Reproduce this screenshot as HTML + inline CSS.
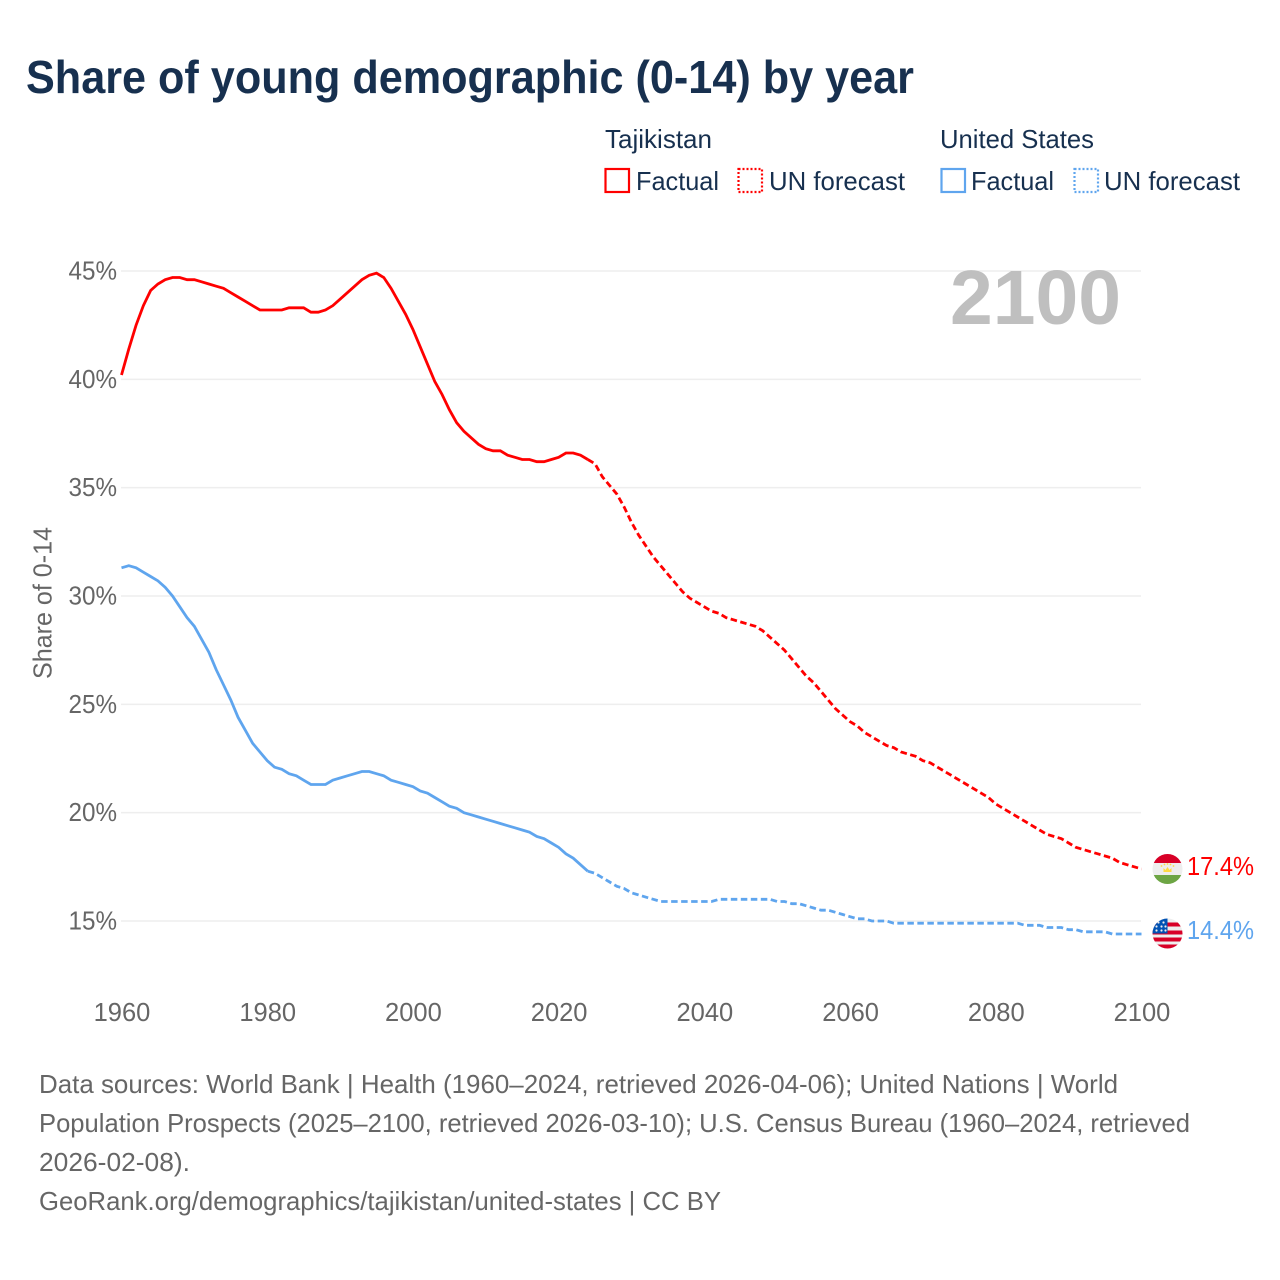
<!DOCTYPE html>
<html lang="en">
<head>
<meta charset="utf-8">
<title>Share of young demographic (0-14) by year</title>
<style>
html,body{margin:0;padding:0;background:#fff;width:1280px;height:1280px;overflow:hidden}
svg{display:block}
text{font-family:"Liberation Sans",sans-serif}
.navy{fill:#17304f}
.grey{fill:#666}
.legend{font-size:26px}
.foot{font-size:26px;fill:#666}
.tick{font-size:25.5px;fill:#666}
</style>
</head>
<body>
<svg id="chart" xmlns="http://www.w3.org/2000/svg" width="1280" height="1280" viewBox="0 0 1280 1280">
  <text class="navy" x="26" y="93" font-size="46" font-weight="700" textLength="888" lengthAdjust="spacingAndGlyphs">Share of young demographic (0-14) by year</text>

  <g>
    <text class="navy legend" x="605" y="148" textLength="107" lengthAdjust="spacingAndGlyphs">Tajikistan</text>
    <rect x="605.5" y="169" width="23.5" height="23" fill="none" stroke="#ff0000" stroke-width="2.2"/>
    <text class="navy legend" x="636" y="190" textLength="83" lengthAdjust="spacingAndGlyphs">Factual</text>
    <rect x="738.5" y="169" width="23.5" height="23" fill="none" stroke="#ff0000" stroke-width="2.2" stroke-dasharray="2 2"/>
    <text class="navy legend" x="769" y="190" textLength="136" lengthAdjust="spacingAndGlyphs">UN forecast</text>

    <text class="navy legend" x="940" y="148" textLength="154" lengthAdjust="spacingAndGlyphs">United States</text>
    <rect x="941.5" y="169" width="23.5" height="23" fill="none" stroke="#5fa5ee" stroke-width="2.2"/>
    <text class="navy legend" x="971" y="190" textLength="83" lengthAdjust="spacingAndGlyphs">Factual</text>
    <rect x="1074.5" y="169" width="23.5" height="23" fill="none" stroke="#5fa5ee" stroke-width="2.2" stroke-dasharray="2 2"/>
    <text class="navy legend" x="1104" y="190" textLength="136" lengthAdjust="spacingAndGlyphs">UN forecast</text>
  </g>

  <g id="grid"></g>
  <g id="yticks"></g>
  <g id="xticks"></g>

  <text class="grey" font-size="26" text-anchor="middle" transform="translate(51.5,603) rotate(-90)" textLength="152" lengthAdjust="spacingAndGlyphs">Share of 0-14</text>

  <text x="950" y="324" font-size="77" font-weight="700" fill="#bfbfbf" textLength="171" lengthAdjust="spacingAndGlyphs">2100</text>

  <g id="series"></g>

  <defs>
    <clipPath id="flag-clip"><circle cx="0" cy="0" r="15"/></clipPath>
  </defs>

  <g id="flag-tj" clip-path="url(#flag-clip)">
    <rect x="-15" y="-15" width="30" height="30" fill="#eeeeee"/>
    <rect x="-15" y="-15" width="30" height="9" fill="#d80027"/>
    <rect x="-15" y="6" width="30" height="9" fill="#6da544"/>
    <path d="M-4 3 L-4 -1 L-2 1 L0 -2 L2 1 L4 -1 L4 3 Z" fill="#ffda44"/>
    <circle cx="-6" cy="-3" r="0.9" fill="#ffda44"/><circle cx="-3" cy="-4.5" r="0.9" fill="#ffda44"/><circle cx="0" cy="-5" r="0.9" fill="#ffda44"/><circle cx="3" cy="-4.5" r="0.9" fill="#ffda44"/><circle cx="6" cy="-3" r="0.9" fill="#ffda44"/>
  </g>
  <g id="flag-us" clip-path="url(#flag-clip)">
    <rect x="-15" y="-15" width="30" height="30" fill="#eeeeee"/>
    <rect x="-15" y="-11" width="30" height="4" fill="#d80027"/>
    <rect x="-15" y="-3" width="30" height="4" fill="#d80027"/>
    <rect x="-15" y="4" width="30" height="4" fill="#d80027"/>
    <rect x="-15" y="11" width="30" height="4" fill="#d80027"/>
    <rect x="-15" y="-15" width="15" height="15" fill="#0052b4"/>
    <g fill="#eeeeee">
      <circle cx="-9" cy="-11" r="1.1"/><circle cx="-4" cy="-11" r="1.1"/><circle cx="-11" cy="-7" r="1.1"/><circle cx="-6" cy="-7" r="1.1"/><circle cx="-2" cy="-7" r="1.1"/><circle cx="-11" cy="-3" r="1.1"/><circle cx="-6" cy="-3" r="1.1"/><circle cx="-2" cy="-3" r="1.1"/>
    </g>
  </g>

  <g id="end-labels"></g>

  <g>
    <text class="foot" x="39" y="1093" textLength="1079" lengthAdjust="spacingAndGlyphs">Data sources: World Bank | Health (1960–2024, retrieved 2026-04-06); United Nations | World</text>
    <text class="foot" x="39" y="1132" textLength="1151" lengthAdjust="spacingAndGlyphs">Population Prospects (2025–2100, retrieved 2026-03-10); U.S. Census Bureau (1960–2024, retrieved</text>
    <text class="foot" x="39" y="1171" textLength="151" lengthAdjust="spacingAndGlyphs">2026-02-08).</text>
    <text class="foot" x="39" y="1210" textLength="682" lengthAdjust="spacingAndGlyphs">GeoRank.org/demographics/tajikistan/united-states | CC BY</text>
  </g>
</svg>

<script>
const xTickYears = [1960, 1980, 2000, 2020, 2040, 2060, 2080, 2100];
const yTickValues = [15, 20, 25, 30, 35, 40, 45];

const factualStartYear = 1960;
const forecastStartYear = 2025;

const tajikistanFactual = [
  40.2, 41.4, 42.5, 43.4, 44.1, 44.4, 44.6, 44.7, 44.7, 44.6,
  44.6, 44.5, 44.4, 44.3, 44.2, 44.0, 43.8, 43.6, 43.4, 43.2,
  43.2, 43.2, 43.2, 43.3, 43.3, 43.3, 43.1, 43.1, 43.2, 43.4,
  43.7, 44.0, 44.3, 44.6, 44.8, 44.9, 44.7, 44.2, 43.6, 43.0,
  42.3, 41.5, 40.7, 39.9, 39.3, 38.6, 38.0, 37.6, 37.3, 37.0,
  36.8, 36.7, 36.7, 36.5, 36.4, 36.3, 36.3, 36.2, 36.2, 36.3,
  36.4, 36.6, 36.6, 36.5, 36.3
];
const tajikistanForecast = [
  36.1, 35.5, 35.1, 34.7, 34.1, 33.4, 32.8, 32.3, 31.8, 31.4,
  31.0, 30.6, 30.2, 29.9, 29.7, 29.5, 29.3, 29.2, 29.0, 28.9,
  28.8, 28.7, 28.6, 28.4, 28.1, 27.8, 27.5, 27.1, 26.7, 26.3,
  26.0, 25.6, 25.2, 24.8, 24.5, 24.2, 24.0, 23.7, 23.5, 23.3,
  23.1, 23.0, 22.8, 22.7, 22.6, 22.4, 22.3, 22.1, 21.9, 21.7,
  21.5, 21.3, 21.1, 20.9, 20.7, 20.4, 20.2, 20.0, 19.8, 19.6,
  19.4, 19.2, 19.0, 18.9, 18.8, 18.6, 18.4, 18.3, 18.2, 18.1,
  18.0, 17.9, 17.7, 17.6, 17.5, 17.4
];
const usFactual = [
  31.3, 31.4, 31.3, 31.1, 30.9, 30.7, 30.4, 30.0, 29.5, 29.0,
  28.6, 28.0, 27.4, 26.6, 25.9, 25.2, 24.4, 23.8, 23.2, 22.8,
  22.4, 22.1, 22.0, 21.8, 21.7, 21.5, 21.3, 21.3, 21.3, 21.5,
  21.6, 21.7, 21.8, 21.9, 21.9, 21.8, 21.7, 21.5, 21.4, 21.3,
  21.2, 21.0, 20.9, 20.7, 20.5, 20.3, 20.2, 20.0, 19.9, 19.8,
  19.7, 19.6, 19.5, 19.4, 19.3, 19.2, 19.1, 18.9, 18.8, 18.6,
  18.4, 18.1, 17.9, 17.6, 17.3
];
const usForecast = [
  17.2, 17.0, 16.8, 16.6, 16.5, 16.3, 16.2, 16.1, 16.0, 15.9,
  15.9, 15.9, 15.9, 15.9, 15.9, 15.9, 15.9, 16.0, 16.0, 16.0,
  16.0, 16.0, 16.0, 16.0, 16.0, 15.9, 15.9, 15.8, 15.8, 15.7,
  15.6, 15.5, 15.5, 15.4, 15.3, 15.2, 15.1, 15.1, 15.0, 15.0,
  15.0, 14.9, 14.9, 14.9, 14.9, 14.9, 14.9, 14.9, 14.9, 14.9,
  14.9, 14.9, 14.9, 14.9, 14.9, 14.9, 14.9, 14.9, 14.9, 14.8,
  14.8, 14.8, 14.7, 14.7, 14.7, 14.6, 14.6, 14.5, 14.5, 14.5,
  14.5, 14.4, 14.4, 14.4, 14.4, 14.4
];

const SVG_NS = 'http://www.w3.org/2000/svg';
const RED = '#ff0000';
const BLUE = '#5fa5ee';

function xScale(year) { return 121.5 + (year - 1960) * (1141.5 - 121.5) / 140; }
function yScale(v) { return 921 - (v - 15) * (921 - 271) / 30; }

function linePath(values, startYear) {
  return values.map(function (v, i) {
    return (i ? 'L' : 'M') + xScale(startYear + i).toFixed(2) + ' ' + yScale(v).toFixed(2);
  }).join(' ');
}

const grid = document.getElementById('grid');
const yticks = document.getElementById('yticks');
yTickValues.forEach(function (v) {
  const line = document.createElementNS(SVG_NS, 'line');
  
  
  line.setAttribute('x1', 121);
  line.setAttribute('x2', 1141);
  line.setAttribute('y1', yScale(v));
  line.setAttribute('y2', yScale(v));
  line.setAttribute('stroke', '#eeeeee');
  line.setAttribute('stroke-width', '1.5');
  grid.appendChild(line);

  const t = document.createElementNS(SVG_NS, 'text');
  
  
  t.setAttribute('class', 'tick');
  t.setAttribute('x', 68.5);
  t.setAttribute('y', yScale(v) + 8.5);
  t.setAttribute('textLength', '48.5');
  t.setAttribute('lengthAdjust', 'spacingAndGlyphs');
  t.textContent = v + '%';
  yticks.appendChild(t);
});

const xticks = document.getElementById('xticks');
xTickYears.forEach(function (yr) {
  const t = document.createElementNS(SVG_NS, 'text');
  
  
  t.setAttribute('class', 'tick');
  t.setAttribute('x', xScale(yr) + 0.5);
  t.setAttribute('y', 1021);
  t.setAttribute('text-anchor', 'middle');
  t.textContent = yr;
  xticks.appendChild(t);
});

const series = document.getElementById('series');

const tjFactualLine = document.createElementNS(SVG_NS, 'path');


tjFactualLine.setAttribute('d', linePath(tajikistanFactual, factualStartYear));
tjFactualLine.setAttribute('fill', 'none');
tjFactualLine.setAttribute('stroke', RED);
tjFactualLine.setAttribute('stroke-width', '2.8');
series.appendChild(tjFactualLine);

const tjForecastLine = document.createElementNS(SVG_NS, 'path');


tjForecastLine.setAttribute('d', linePath([tajikistanFactual[tajikistanFactual.length - 1]].concat(tajikistanForecast), forecastStartYear - 1));
tjForecastLine.setAttribute('fill', 'none');
tjForecastLine.setAttribute('stroke', RED);
tjForecastLine.setAttribute('stroke-width', '2.8');
tjForecastLine.setAttribute('stroke-dasharray', '6.5 3.5');
series.appendChild(tjForecastLine);

const usFactualLine = document.createElementNS(SVG_NS, 'path');


usFactualLine.setAttribute('d', linePath(usFactual, factualStartYear));
usFactualLine.setAttribute('fill', 'none');
usFactualLine.setAttribute('stroke', BLUE);
usFactualLine.setAttribute('stroke-width', '2.8');
series.appendChild(usFactualLine);

const usForecastLine = document.createElementNS(SVG_NS, 'path');


usForecastLine.setAttribute('d', linePath([usFactual[usFactual.length - 1]].concat(usForecast), forecastStartYear - 1));
usForecastLine.setAttribute('fill', 'none');
usForecastLine.setAttribute('stroke', BLUE);
usForecastLine.setAttribute('stroke-width', '2.8');
usForecastLine.setAttribute('stroke-dasharray', '6.5 3.5');
series.appendChild(usForecastLine);

const tjLast = tajikistanForecast[tajikistanForecast.length - 1];
const usLast = usForecast[usForecast.length - 1];
document.getElementById('flag-tj').setAttribute('transform', 'translate(1167.5,' + yScale(tjLast) + ')');
document.getElementById('flag-us').setAttribute('transform', 'translate(1167.5,' + (yScale(usLast) - 0.5) + ')');

const endLabels = document.getElementById('end-labels');

const tjEnd = document.createElementNS(SVG_NS, 'text');


tjEnd.setAttribute('x', 1187);
tjEnd.setAttribute('y', yScale(tjLast) + 6);
tjEnd.setAttribute('font-size', '25.5');
tjEnd.setAttribute('fill', RED);
tjEnd.setAttribute('textLength', '67');
tjEnd.setAttribute('lengthAdjust', 'spacingAndGlyphs');
tjEnd.textContent = tjLast.toFixed(1) + '%';
endLabels.appendChild(tjEnd);

const usEnd = document.createElementNS(SVG_NS, 'text');


usEnd.setAttribute('x', 1187);
usEnd.setAttribute('y', yScale(usLast) + 5);
usEnd.setAttribute('font-size', '25.5');
usEnd.setAttribute('fill', BLUE);
usEnd.setAttribute('textLength', '67');
usEnd.setAttribute('lengthAdjust', 'spacingAndGlyphs');
usEnd.textContent = usLast.toFixed(1) + '%';
endLabels.appendChild(usEnd);
</script>
</body>
</html>
